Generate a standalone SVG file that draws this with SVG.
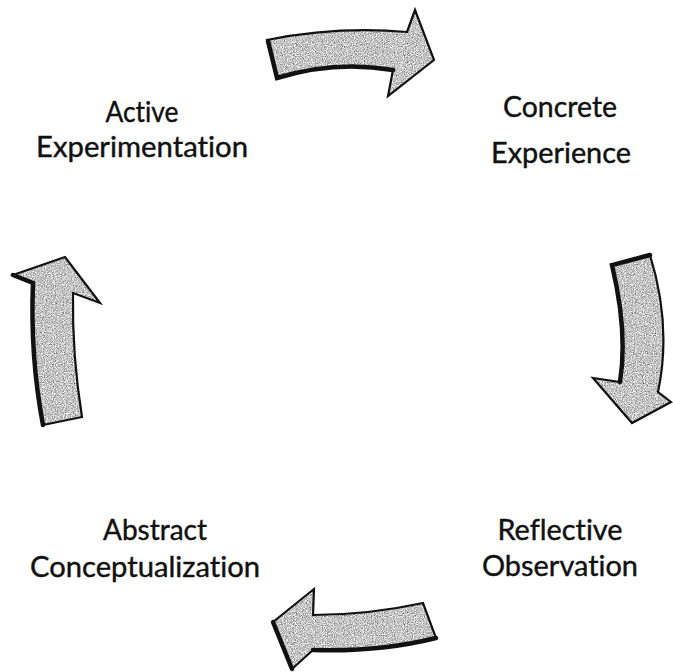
<svg xmlns="http://www.w3.org/2000/svg" width="673" height="672" viewBox="0 0 673 672">
  <style>
    .lbl { font-family: Lato, "Open Sans", "Liberation Sans", sans-serif; font-size: 28px; fill: #111; stroke: #111; stroke-width: 0.4; text-anchor: middle; font-variant-ligatures: none; font-feature-settings: "liga" 0, "clig" 0; }
    .fillgrain { fill: #000; filter: url(#grain); }
    .edge { fill: none; stroke: #111; stroke-width: 2.2; stroke-linejoin: miter; }
    .shade { fill: none; stroke: #111; stroke-width: 4.5; stroke-linecap: round; }
  </style>
  <defs>
    <filter id="grain" x="0" y="0" width="100%" height="100%" color-interpolation-filters="sRGB">
      <feTurbulence type="fractalNoise" baseFrequency="0.9" numOctaves="2" seed="7" result="n"/>
      <feColorMatrix in="n" type="matrix" values="0.33 0.33 0.33 0 0  0.33 0.33 0.33 0 0  0.33 0.33 0.33 0 0  0 0 0 0 1" result="g"/>
      <feComponentTransfer in="g" result="c">
        <feFuncR type="linear" slope="1.8" intercept="-0.12"/>
        <feFuncG type="linear" slope="1.8" intercept="-0.12"/>
        <feFuncB type="linear" slope="1.8" intercept="-0.12"/>
      </feComponentTransfer>
      <feComposite in="c" in2="SourceGraphic" operator="in"/>
    </filter>
    <path id="a1" d="M 267,40 Q 337,26 407,32 L 415,10 L 434,60 L 388,96 L 393,70 Q 335,60 277,78 Z"/>
    <path id="a2" d="M 612,265 L 650,255 Q 672,326 658,392 L 671,402 L 632,423 L 593,378 L 620,382 Q 628,332 612,265 Z"/>
    <path id="a3" d="M 273,622 L 314,589 L 313,615 Q 368,615 423,603 L 436,638 Q 380,652 313,650 L 292,669 Z"/>
    <path id="a4" d="M 13,275 L 65,257 L 100,303 L 73,293 Q 72,355 82,417 L 43,425 Q 30,356 33,283 Z"/>
  </defs>
  <rect width="673" height="672" fill="#fff"/>

  <g id="connectors">
    <g id="arrow-ae-ce">
      <use href="#a1" class="fillgrain"/>
      <use href="#a1" class="edge"/>
      <path class="shade" d="M 393,70 Q 335,60 277,78 L 268,41"/>
    </g>
    <g id="arrow-ce-ro">
      <use href="#a2" class="fillgrain"/>
      <use href="#a2" class="edge"/>
      <path class="shade" d="M 620,382 Q 628,332 612,265 L 650,255"/>
    </g>
    <g id="arrow-ro-ac">
      <use href="#a3" class="fillgrain"/>
      <use href="#a3" class="edge"/>
      <path class="shade" d="M 436,638 Q 380,652 313,650 M 273,622 L 292,669"/>
    </g>
    <g id="arrow-ac-ae">
      <use href="#a4" class="fillgrain"/>
      <use href="#a4" class="edge"/>
      <path class="shade" d="M 43,425 Q 30,356 33,283 L 13,275"/>
    </g>
  </g>

  <g id="node-active-experimentation">
    <text class="lbl" x="142" y="122" textLength="73" lengthAdjust="spacingAndGlyphs">Active</text>
    <text class="lbl" x="142" y="157" textLength="212" lengthAdjust="spacingAndGlyphs">Experimentation</text>
  </g>
  <g id="node-concrete-experience">
    <text class="lbl" x="560" y="117" textLength="114" lengthAdjust="spacingAndGlyphs">Concrete</text>
    <text class="lbl" x="561" y="163" textLength="140" lengthAdjust="spacingAndGlyphs">Experience</text>
  </g>
  <g id="node-reflective-observation">
    <text class="lbl" x="560" y="540" textLength="125" lengthAdjust="spacingAndGlyphs">Reflective</text>
    <text class="lbl" x="560" y="576" textLength="156" lengthAdjust="spacingAndGlyphs">Observation</text>
  </g>
  <g id="node-abstract-conceptualization">
    <text class="lbl" x="155" y="540" textLength="104" lengthAdjust="spacingAndGlyphs">Abstract</text>
    <text class="lbl" x="145" y="577" textLength="230" lengthAdjust="spacingAndGlyphs">Conceptualization</text>
  </g>
</svg>
